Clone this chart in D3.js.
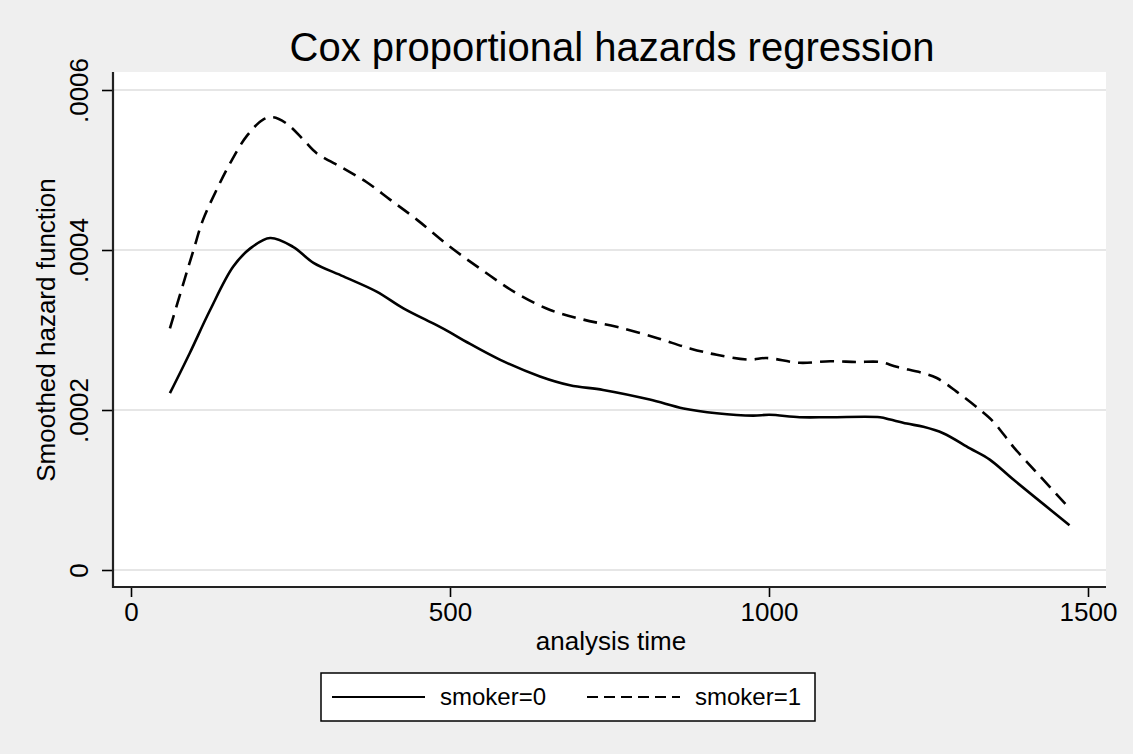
<!DOCTYPE html>
<html>
<head>
<meta charset="utf-8">
<script src="https://cdn.jsdelivr.net/npm/d3@7"></script>
<style>
  html, body { margin: 0; padding: 0; background: #efefef; }
  svg { display: block; }
  text { font-family: "Liberation Sans", Arial, Helvetica, sans-serif; fill: #000; }
</style>
</head>
<body>
<script>
// ---- data ----
const title = "Cox proportional hazards regression";
const xTitle = "analysis time";
const yTitle = "Smoothed hazard function";
const xTicks = [0, 500, 1000, 1500];
const yTicks = [0, 0.0002, 0.0004, 0.0006];
const yTickLabels = ["0", ".0002", ".0004", ".0006"];
const seriesNames = ["smoker=0", "smoker=1"];

const time0 = [61, 92, 124, 160, 187, 218, 254, 286, 333, 385, 427, 479, 500, 526, 578, 641, 688, 740, 813, 866, 918, 975, 1001, 1048, 1096, 1174, 1190, 1216, 1242, 1273, 1315, 1346, 1383, 1471];
const hazard0 = [0.000221, 0.000271, 0.000325, 0.000379, 0.000402, 0.000415, 0.000404, 0.000384, 0.000367, 0.000348, 0.000327, 0.000306, 0.000297, 0.000285, 0.000263, 0.000242, 0.000231, 0.000225, 0.000213, 0.000202, 0.000196, 0.000193, 0.000194, 0.000191, 0.000191, 0.000191, 0.000188, 0.000183, 0.000179, 0.000171, 0.000152, 0.000138, 0.000113, 0.000056];

const time1 = [61, 82, 98, 113, 134, 155, 181, 207, 223, 244, 270, 291, 333, 369, 406, 448, 500, 552, 604, 657, 709, 761, 824, 876, 918, 970, 996, 1048, 1096, 1137, 1174, 1200, 1242, 1263, 1294, 1331, 1352, 1383, 1425, 1470];
const hazard1 = [0.000302, 0.000358, 0.000400, 0.000438, 0.000475, 0.000508, 0.000542, 0.000563, 0.000566, 0.000558, 0.000538, 0.000521, 0.000502, 0.000485, 0.000463, 0.000438, 0.000404, 0.000374, 0.000346, 0.000325, 0.000313, 0.000304, 0.000290, 0.000277, 0.000269, 0.000263, 0.000265, 0.000259, 0.000261, 0.000260, 0.000260, 0.000254, 0.000246, 0.000240, 0.000223, 0.000200, 0.000185, 0.000154, 0.000117, 0.000078];

// ---- layout ----
const W = 1133, H = 754;
const plot = { left: 113, right: 1106, top: 72, bottom: 587 };

const svg = d3.select("body").append("svg").attr("width", W).attr("height", H);
svg.append("rect").attr("width", W).attr("height", H).attr("fill", "#efefef");

const x = d3.scaleLinear().domain([0, 1500]).range([131, 1088]);
const y = d3.scaleLinear().domain([0, 0.0006]).range([570, 90]);

// plot region
svg.append("rect")
  .attr("x", plot.left).attr("y", plot.top)
  .attr("width", plot.right - plot.left).attr("height", plot.bottom - plot.top)
  .attr("fill", "#fff");

// grid
svg.append("g").selectAll("line").data(yTicks).join("line")
  .attr("x1", plot.left).attr("x2", plot.right)
  .attr("y1", d => y(d)).attr("y2", d => y(d))
  .attr("stroke", "#e6e6e6").attr("stroke-width", 2);

// lines
const line = d3.line().x(d => x(d[0])).y(d => y(d[1])).curve(d3.curveCatmullRom.alpha(0.5));
const s0 = time0.map((t, i) => [t, hazard0[i]]);
const s1 = time1.map((t, i) => [t, hazard1[i]]);
svg.append("path").datum(s0).attr("d", line)
  .attr("fill", "none").attr("stroke", "#000").attr("stroke-width", 2.6);
svg.append("path").datum(s1).attr("d", line)
  .attr("fill", "none").attr("stroke", "#000").attr("stroke-width", 2.6)
  .attr("stroke-dasharray", "14,8");

// axes
const yAxis = d3.axisLeft(y).tickValues(yTicks).tickFormat((d, i) => yTickLabels[i]).tickSize(11).tickPadding(0);
const gy = svg.append("g").attr("transform", `translate(${plot.left},0)`).call(yAxis);
gy.select(".domain").remove();
gy.selectAll(".tick line").attr("stroke", "#000").attr("stroke-width", 1.6);
gy.selectAll(".tick text")
  .attr("x", 0).attr("y", 0).attr("dy", null)
  .attr("text-anchor", "middle")
  .attr("transform", "translate(-25,0) rotate(-90)")
  .style("font-size", "26px")
  .style("font-family", "'Liberation Sans', Arial, sans-serif");

const xAxis = d3.axisBottom(x).tickValues(xTicks).tickFormat(d3.format("d")).tickSize(10).tickPadding(0);
const gx = svg.append("g").attr("transform", `translate(0,${plot.bottom})`).call(xAxis);
gx.select(".domain").remove();
gx.selectAll(".tick line").attr("stroke", "#000").attr("stroke-width", 1.6);
gx.selectAll(".tick text")
  .attr("y", 34).attr("dy", null)
  .style("font-size", "26px")
  .style("font-family", "'Liberation Sans', Arial, sans-serif");

// axis lines
svg.append("line").attr("x1", plot.left).attr("x2", plot.left).attr("y1", plot.top).attr("y2", plot.bottom + 1)
  .attr("stroke", "#222").attr("stroke-width", 2.2);
svg.append("line").attr("x1", plot.left - 1).attr("x2", plot.right).attr("y1", plot.bottom).attr("y2", plot.bottom)
  .attr("stroke", "#222").attr("stroke-width", 2.2);

// titles
svg.append("text").attr("x", 612).attr("y", 61).attr("text-anchor", "middle")
  .style("font-size", "40px").text(title);
svg.append("text").attr("x", 611).attr("y", 650).attr("text-anchor", "middle")
  .style("font-size", "26px").text(xTitle);
svg.append("text").attr("transform", "translate(55,330) rotate(-90)").attr("text-anchor", "middle")
  .style("font-size", "26px").text(yTitle);

// legend
const lg = svg.append("g");
lg.append("rect").attr("x", 321).attr("y", 673).attr("width", 494).attr("height", 48)
  .attr("fill", "#fff").attr("stroke", "#000").attr("stroke-width", 1.5);
const legendItems = [
  { name: seriesNames[0], x1: 332, x2: 425, tx: 440, dash: null },
  { name: seriesNames[1], x1: 587, x2: 680, tx: 695, dash: "11,6" }
];
legendItems.forEach(it => {
  lg.append("line").attr("x1", it.x1).attr("x2", it.x2).attr("y1", 697).attr("y2", 697)
    .attr("stroke", "#000").attr("stroke-width", 2.2)
    .attr("stroke-dasharray", it.dash);
  lg.append("text").attr("x", it.tx).attr("y", 705).style("font-size", "24px").text(it.name);
});
</script>
</body>
</html>
